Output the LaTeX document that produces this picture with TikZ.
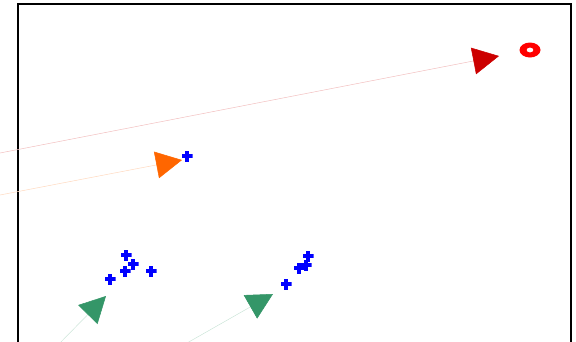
\documentclass[tikz,border=0pt]{standalone}
\usepackage{xcolor}
\usepackage{tikz}
\usetikzlibrary{arrows.meta}

\definecolor{headred}{RGB}{204,0,0}
\definecolor{headorange}{RGB}{255,102,0}
\definecolor{headgreen}{RGB}{52,150,104}
\definecolor{ringred}{RGB}{255,0,0}
\definecolor{ptblue}{RGB}{0,0,255}

\begin{document}
\begin{tikzpicture}[
    x=1pt, y=-1pt,
    frame/.style={draw=black, line width=1.2pt},
    arr/.style={draw=#1!25, line width=0.5pt,
                -{Triangle[length=26pt, width=27pt, color=#1]}},
    pt/.style={minimum size=11pt, inner sep=0pt,
               path picture={
                 \fill[ptblue] ([xshift=-5.5pt, yshift=-2.4pt]path picture bounding box.center)
                               rectangle ([xshift=5.5pt, yshift=2.4pt]path picture bounding box.center);
                 \fill[ptblue] ([xshift=-2.4pt, yshift=-5.5pt]path picture bounding box.center)
                               rectangle ([xshift=2.4pt, yshift=5.5pt]path picture bounding box.center);}}
]
\useasboundingbox (0,0) rectangle (576,341);
\clip (0,0) rectangle (576,341);
\draw[frame] (18,4) rectangle (571,360);

% target
\coordinate (goal) at (530,50);
\fill[ringred, even odd rule] (goal) ellipse (10.5 and 7.5) (goal) ellipse (3.5 and 2.5);

% points
\node[pt] (p1)  at (187,156) {};
\node[pt] (p2)  at (126,255) {};
\node[pt] (p3)  at (133,264) {};
\node[pt] (p4)  at (125,271) {};
\node[pt] (p5)  at (151,271) {};
\node[pt] (p6)  at (110,279) {};
\node[pt] (p7)  at (308,256) {};
\node[pt] (p8)  at (306,265) {};
\node[pt] (p9)  at (299,268) {};
\node[pt] (p10) at (286,284) {};

% arrows
\coordinate (rtail) at (0,153);   \coordinate (rtip) at (499,56);
\coordinate (otail) at (0,195);   \coordinate (otip) at (182,160);
\coordinate (g1tail) at (56,347); \coordinate (g1tip) at (106,296);
\coordinate (g2tail) at (180,347); \coordinate (g2tip) at (273,294);
\draw[arr=headred] (rtail) -- (rtip);
\draw[arr=headorange] (otail) -- (otip);
\draw[arr=headgreen] (g1tail) -- (g1tip);
\draw[arr=headgreen] (g2tail) -- (g2tip);
\end{tikzpicture}
\end{document}
